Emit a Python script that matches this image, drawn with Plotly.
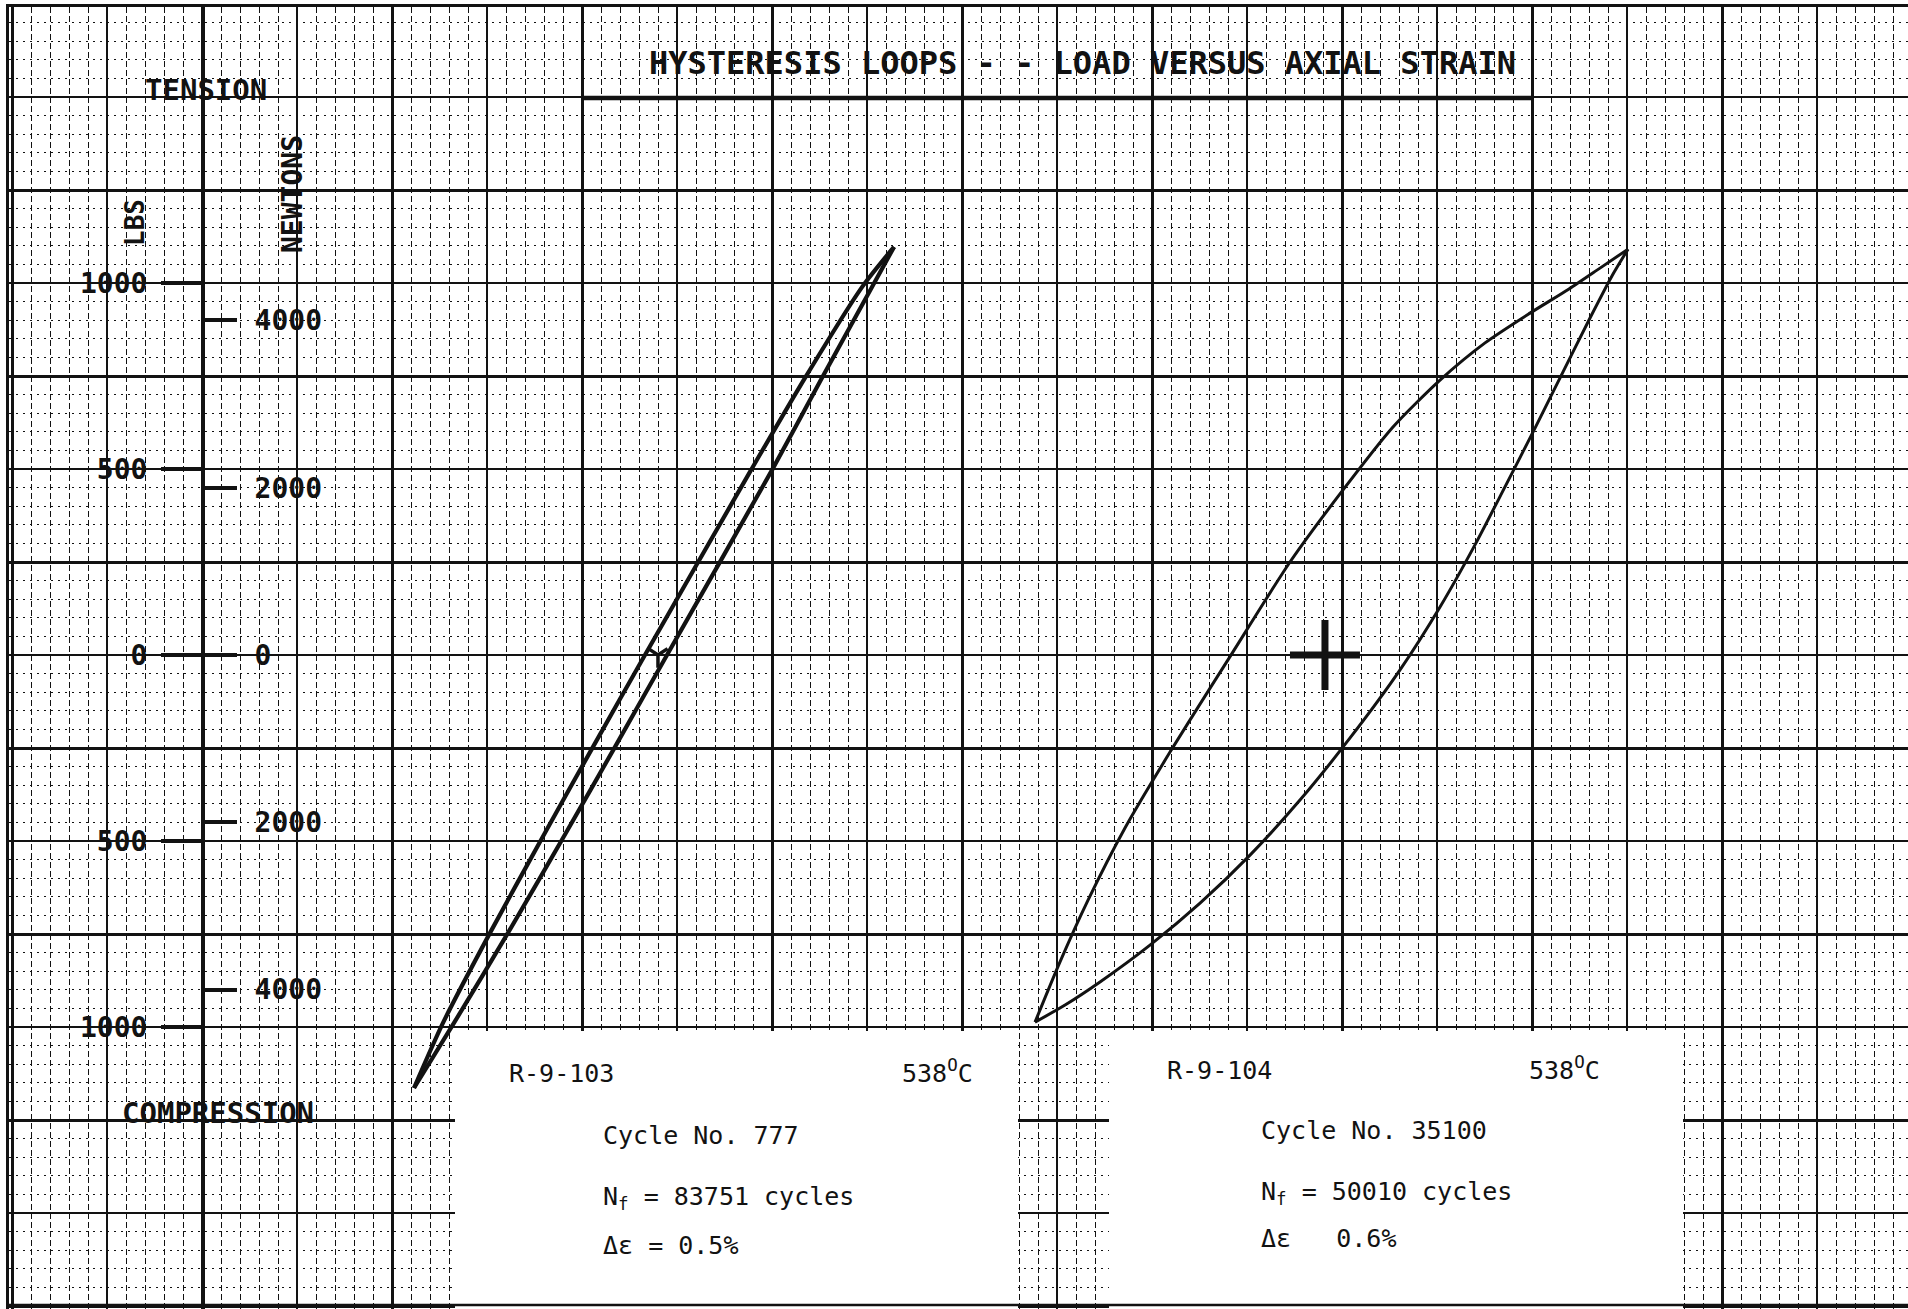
import plotly.graph_objects as go

# ---------------------------------------------------------------------------
# Data: load vs. axial strain, two specimens at 538 C
# strain is the chart position along the recorder paper (% strain)
# ---------------------------------------------------------------------------

# R-9-103, cycle 777 : loading branch (compression tip -> tension tip)
R103_UP_STRAIN = [0.4358, 0.4779, 0.5347, 0.5958, 0.6474, 0.7021, 0.8126, 0.8653, 0.9179, 0.9411]
R103_UP_LBS = [-1164, -989, -747, -478, -247, 0, 497, 745, 989, 1097]
# R-9-103 : unloading branch (tension tip -> compression tip)
R103_DOWN_STRAIN = [0.9411, 0.9074, 0.8474, 0.7905, 0.6789, 0.6242, 0.5737, 0.5158, 0.4663, 0.4358]
R103_DOWN_LBS = [1097, 989, 745, 497, 0, -247, -478, -747, -989, -1164]

# R-9-104, cycle 35100 : lower branch (compression tip -> tension tip)
R104_LOW_STRAIN = [1.0895, 1.1211, 1.1579, 1.2105, 1.2632, 1.3158, 1.3684, 1.4211, 1.4737,
                   1.5158, 1.5526, 1.5842, 1.6158, 1.6453, 1.6737, 1.6968, 1.7137]
R104_LOW_LBS = [-987, -941, -879, -780, -667, -538, -390, -223, -40,
                129, 296, 452, 610, 761, 906, 1019, 1091]
# R-9-104 : upper branch (compression tip -> tension tip)
R104_UPP_STRAIN = [1.0895, 1.1158, 1.1453, 1.1842, 1.2316, 1.2926, 1.3579, 1.4105, 1.4663,
                   1.5158, 1.5632, 1.6105, 1.6516, 1.6842, 1.7137]
R104_UPP_LBS = [-987, -825, -659, -465, -261, -13, 250, 433, 613,
                739, 839, 919, 984, 1040, 1091]

# pen marks at the loop origins
ORIGIN_STRAIN = [0.6926, 1.3947]
ORIGIN_LBS = [0, 0]

# load scale ticks
LBS_TICKS = [1000, 500, 0, -500, -1000]
LBS_TEXT = ["1000", "500", "0", "500", "1000"]
N_TICKS = [4000, 2000, 0, -2000, -4000]
N_TEXT = ["4000", "2000", "0", "2000", "4000"]
LB_TO_N = 4.448222

# ---------------------------------------------------------------------------
# Page geometry
# ---------------------------------------------------------------------------
W, H = 1908, 1309
ML, MT = 9, 7                 # left / top border of the paper
PX_PER_PCT = 950.0            # pixels per 1 % strain
PX_PER_LB = 0.372             # pixels per lb
ZERO_PY = 655                 # page row of zero load
GRID0 = 12 / PX_PER_PCT       # first heavy vertical ruling

x_range = [ML / PX_PER_PCT, W / PX_PER_PCT]
y_range = [(ZERO_PY - H) / PX_PER_LB, (ZERO_PY - MT) / PX_PER_LB]


def px(xp):
    """page column -> paper fraction"""
    return (xp - ML) / (W - ML)


def py(yp):
    """page row -> paper fraction"""
    return 1 - (yp - MT) / (H - MT)


def sx(xp):
    """page column -> strain axis value"""
    return xp / PX_PER_PCT


def ly(yp):
    """page row -> load axis value"""
    return (ZERO_PY - yp) / PX_PER_LB


INK = "#121212"
MONO = "DejaVu Sans Mono"

fig = go.Figure()

# hysteresis loops
for xs, ys, w in [
    (R103_UP_STRAIN, R103_UP_LBS, 4.2),
    (R103_DOWN_STRAIN, R103_DOWN_LBS, 4.2),
    (R104_LOW_STRAIN, R104_LOW_LBS, 3.0),
    (R104_UPP_STRAIN, R104_UPP_LBS, 3.0),
]:
    fig.add_trace(go.Scatter(
        x=xs, y=ys, mode="lines",
        line=dict(color=INK, width=w, shape="spline", smoothing=0.7),
        hoverinfo="skip", showlegend=False))

# origin marks
fig.add_trace(go.Scatter(
    x=ORIGIN_STRAIN[1:], y=ORIGIN_LBS[1:], mode="markers",
    marker=dict(symbol="cross-thin", size=50, line=dict(color=INK, width=7)),
    hoverinfo="skip", showlegend=False))
fig.add_trace(go.Scatter(
    x=ORIGIN_STRAIN[:1], y=ORIGIN_LBS[:1], mode="markers",
    marker=dict(symbol="y-down", size=16, line=dict(color=INK, width=3.5)),
    hoverinfo="skip", showlegend=False))

# placeholders so the overlay axes (heavy rulings, load scales) get drawn
for xa, ya in [("x2", "y2"), ("x", "y3"), ("x", "y4")]:
    fig.add_trace(go.Scatter(x=[None], y=[None], xaxis=xa, yaxis=ya,
                             hoverinfo="skip", showlegend=False))

grid_common = dict(showticklabels=False, ticks="", zeroline=False, fixedrange=True,
                   gridcolor=INK)

fig.update_layout(
    width=W, height=H,
    margin=dict(l=ML, r=0, t=MT, b=0),
    paper_bgcolor="white", plot_bgcolor="white",
    showlegend=False,
    xaxis=dict(
        range=x_range, side="top", showline=True, linewidth=3, linecolor=INK,
        tick0=GRID0, dtick=0.1, showgrid=True, gridwidth=1.6,
        minor=dict(tick0=GRID0, dtick=0.02, showgrid=True, gridcolor=INK,
                   gridwidth=1.0, griddash="6px,3px"),
        **grid_common),
    xaxis2=dict(
        range=x_range, overlaying="x", anchor="y", showline=False,
        tick0=GRID0, dtick=0.2, showgrid=True, gridwidth=3.2,
        **grid_common),
    yaxis=dict(
        range=y_range, side="left", showline=True, linewidth=3, linecolor=INK,
        tick0=0, dtick=250, showgrid=True, gridwidth=1.6,
        minor=dict(tick0=0, dtick=50, showgrid=True, gridcolor=INK,
                   gridwidth=1.0, griddash="2px,5px"),
        **grid_common),
    yaxis2=dict(
        range=y_range, overlaying="y", anchor="x", showline=False,
        tick0=250, dtick=500, showgrid=True, gridwidth=3.2,
        **grid_common),
    yaxis3=dict(
        range=y_range, overlaying="y", anchor="free", position=px(203), side="left",
        showline=True, linewidth=4, linecolor=INK, showgrid=False, zeroline=False,
        ticks="outside", ticklen=40, tickwidth=4, tickcolor=INK,
        tickvals=LBS_TICKS, ticktext=LBS_TEXT, ticklabelstandoff=8,
        tickfont=dict(family=MONO, size=28, color=INK, weight="bold"),
        fixedrange=True),
    yaxis4=dict(
        range=[v * LB_TO_N for v in y_range], overlaying="y", anchor="free",
        position=px(203), side="right",
        showline=False, showgrid=False, zeroline=False,
        ticks="outside", ticklen=33, tickwidth=4, tickcolor=INK,
        tickvals=N_TICKS, ticktext=N_TEXT, ticklabelstandoff=12,
        tickfont=dict(family=MONO, size=28, color=INK, weight="bold"),
        fixedrange=True),
)

# label areas cleared of ruling, title underline, bottom edge
shapes = [
    dict(type="rect", xref="x", yref="y", x0=sx(455), x1=sx(1018),
         y0=y_range[0], y1=ly(1031), fillcolor="white", line=dict(width=0), layer="between"),
    dict(type="rect", xref="x", yref="y", x0=sx(1109), x1=sx(1683),
         y0=y_range[0], y1=ly(1031), fillcolor="white", line=dict(width=0), layer="between"),
    dict(type="line", xref="x", yref="y", x0=sx(582), x1=sx(1533),
         y0=ly(98), y1=ly(98), line=dict(color=INK, width=4.5), layer="between"),
    dict(type="line", xref="paper", yref="paper", x0=px(9), x1=px(1908),
         y0=py(1305), y1=py(1305), line=dict(color=INK, width=2.5), layer="above"),
]
fig.update_layout(shapes=shapes)


def note(text, x, y, size=25, anchor="left", bold=False, angle=0):
    fig.add_annotation(
        text=text, xref="paper", yref="paper", x=px(x), y=py(y),
        xanchor=anchor, yanchor="middle", showarrow=False, textangle=angle,
        font=dict(family=MONO, size=size, color=INK, weight="bold" if bold else "normal"))


note("HYSTERESIS LOOPS - - LOAD VERSUS AXIAL STRAIN", 1082, 63, size=32, anchor="center", bold=True)
note("TENSION", 206, 90, size=29, anchor="center", bold=True)
note("COMPRESSION", 218, 1113, size=29, anchor="center", bold=True)
note("LBS", 135, 223, size=26, anchor="center", bold=True, angle=-90)
note("NEWTONS", 292, 194, size=28, anchor="center", bold=True, angle=-90)

# specimen R-9-103
note("R-9-103", 507, 1073)
note("538<sup>O</sup>C", 900, 1071)
note("Cycle No. 777", 601, 1135)
note("N<sub>f</sub> = 83751 cycles", 601, 1198)
note("\u0394\u03b5 = 0.5%", 601, 1245)

# specimen R-9-104
note("R-9-104", 1165, 1070)
note("538<sup>O</sup>C", 1527, 1068)
note("Cycle No. 35100", 1259, 1130)
note("N<sub>f</sub> = 50010 cycles", 1259, 1193)
note("\u0394\u03b5\u00a0\u00a0\u00a00.6%", 1259, 1238)

fig.write_html("out.html")
